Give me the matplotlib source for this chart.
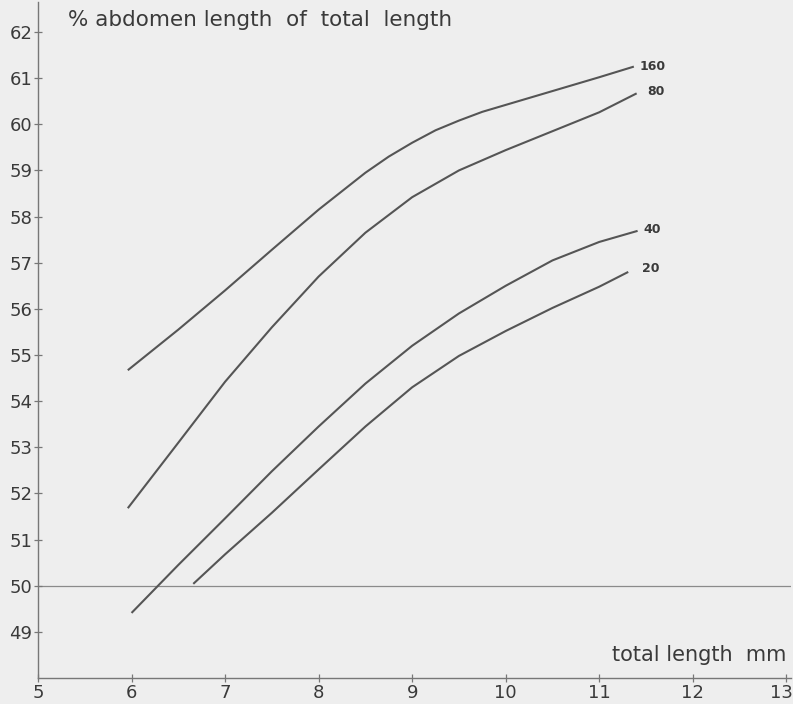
import matplotlib
matplotlib.use("Agg")
import matplotlib.pyplot as plt
import matplotlib.transforms as mtransforms

# ---- data ----
len_160 = [5.96, 6.5, 7.0, 7.5, 8.0, 8.5, 8.75, 9.0, 9.25, 9.5, 9.75, 10.0, 10.5, 11.0, 11.37]
pct_160 = [54.67, 55.55, 56.40, 57.28, 58.15, 58.95, 59.30, 59.60, 59.87, 60.08, 60.27, 60.42, 60.72, 61.02, 61.25]

len_80 = [5.96, 6.5, 7.0, 7.5, 8.0, 8.5, 9.0, 9.5, 10.0, 10.5, 11.0, 11.40]
pct_80 = [51.68, 53.10, 54.42, 55.60, 56.70, 57.65, 58.42, 59.00, 59.44, 59.85, 60.26, 60.67]

len_40 = [6.0, 6.5, 7.0, 7.5, 8.0, 8.5, 9.0, 9.5, 10.0, 10.5, 11.0, 11.41]
pct_40 = [49.41, 50.45, 51.46, 52.48, 53.45, 54.38, 55.20, 55.90, 56.50, 57.05, 57.45, 57.69]

len_20 = [6.66, 7.0, 7.5, 8.0, 8.5, 9.0, 9.5, 10.0, 10.5, 11.0, 11.31]
pct_20 = [50.04, 50.68, 51.58, 52.52, 53.45, 54.30, 54.98, 55.52, 56.02, 56.48, 56.80]

series_labels = ["160", "80", "40", "20"]
x_ticks = [5, 6, 7, 8, 9, 10, 11, 12, 13]
y_ticks = [49, 50, 51, 52, 53, 54, 55, 56, 57, 58, 59, 60, 61, 62]
reference_level = 50
y_title = "% abdomen length  of  total  length"
x_title = "total length  mm"

# ---- figure ----
bg = "#eeeeee"
ink = "#3a3a3a"
line_col = "#555555"
axis_col = "#777777"

fig = plt.figure(figsize=(7.93, 7.04), dpi=100, facecolor=bg)
ax = fig.add_axes([38 / 793, 26 / 704, 753 / 793, 676 / 704])
ax.set_facecolor(bg)
ax.set_xlim(5, 13.05)
ax.set_ylim(48, 62.65)

for s in ("top", "right"):
    ax.spines[s].set_visible(False)
for s in ("left", "bottom"):
    ax.spines[s].set_color(axis_col)
    ax.spines[s].set_linewidth(1.0)

ax.set_xticks(x_ticks)
ax.set_yticks(y_ticks)
ax.tick_params(axis="both", direction="inout", length=6, width=0.9,
               color=axis_col, labelcolor=ink, labelsize=13)
ax.tick_params(axis="x", pad=1)
ax.tick_params(axis="y", pad=1)

# keep the last x tick label inside the figure
last = ax.get_xticklabels()[-1]
last.set_transform(last.get_transform() +
                   mtransforms.ScaledTranslation(-5 / 100, 0, fig.dpi_scale_trans))

# horizontal reference line at 50
ax.axhline(reference_level, color="#8a8a8a", lw=0.9, zorder=1)

curves = [(len_160, pct_160), (len_80, pct_80), (len_40, pct_40), (len_20, pct_20)]
offsets = [(6, 0), (11, 2), (6, 1), (14, 3)]
for (xs, ys), lab, off in zip(curves, series_labels, offsets):
    ax.plot(xs, ys, color=line_col, lw=1.5, solid_capstyle="butt",
            solid_joinstyle="round", zorder=3)
    ax.annotate(lab, xy=(xs[-1], ys[-1]), xytext=off, textcoords="offset pixels",
                ha="left", va="center", fontsize=9, color=ink, fontweight="bold")

ax.text(5.32, 62.27, y_title, ha="left", va="center", fontsize=15.5, color=ink)
ax.text(13.0, 48.5, x_title, ha="right", va="center", fontsize=15, color=ink)

fig.savefig("out.png", dpi=100, facecolor=bg)
